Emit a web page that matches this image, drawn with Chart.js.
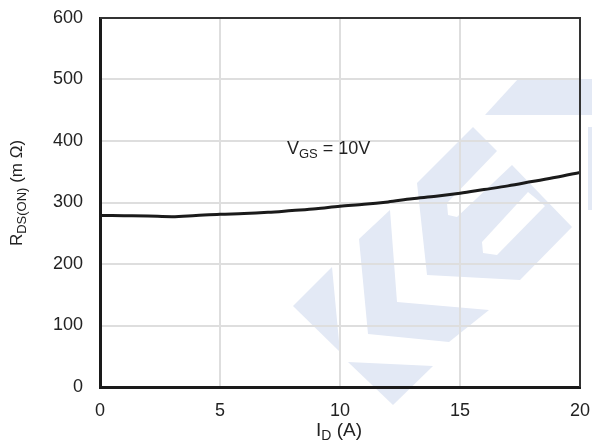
<!DOCTYPE html>
<html>
<head>
<meta charset="utf-8">
<script src="https://cdn.jsdelivr.net/npm/chart.js@4/dist/chart.umd.min.js"></script>
<style>
  html, body { margin: 0; padding: 0; background: #fff; }
  #wrap { width: 592px; height: 443px; }
</style>
</head>
<body>
<div id="wrap"><canvas id="chart" width="592" height="443"></canvas></div>
<script>
// I_D (A) vs R_DS(ON) (mΩ), V_GS = 10V
const currentA = [0, 1, 2, 3, 4, 5, 6, 7, 8, 9, 10, 11, 12, 13, 14, 15, 16, 17, 18, 19, 20];
const rdsOn = [279, 278.5, 278, 277, 279, 281, 282, 284, 287, 290, 294, 297, 301, 306, 310, 315, 321, 327, 334, 341, 349];
const xTicks = [0, 5, 10, 15, 20];
const yTicks = [0, 100, 200, 300, 400, 500, 600];

const FONT = '"Liberation Sans", Arial, sans-serif';
const TXT = '#222';

// faded logo in the background (decoration only, pixel coords)
const logoShapes = [
    [[485, 115], [518, 79], [592, 79], [592, 115]],
    [[588, 127], [592, 127], [592, 210], [588, 210]],
    [[473, 127], [497, 151], [447, 203], [448, 215], [457, 217], [512, 165], [572, 227], [520, 280], [427, 275], [417, 183]],
    [[390, 210], [397, 302], [489, 310], [449, 342], [368, 334], [359, 239]],
    [[332, 267], [340, 352], [293, 306]],
    [[348, 362], [433, 366], [393, 405]]
];
const logoHoles = [
    [[482, 242], [483, 253], [497, 255], [545, 206], [528, 192]]
];

function poly(ctx, pts, color) {
    ctx.beginPath();
    pts.forEach(([x, y], i) => i ? ctx.lineTo(x, y) : ctx.moveTo(x, y));
    ctx.closePath();
    ctx.fillStyle = color;
    ctx.fill();
}

// text with a subscript part, e.g. R + DS(ON) + (m Ω)
function subText(ctx, x, y, main, sub, rest, size, subSize) {
    ctx.font = size + 'px ' + FONT;
    ctx.fillText(main, x, y);
    x += ctx.measureText(main).width;
    ctx.font = subSize + 'px ' + FONT;
    ctx.fillText(sub, x, y + 4);
    x += ctx.measureText(sub).width;
    ctx.font = size + 'px ' + FONT;
    ctx.fillText(rest, x, y);
}

function subWidth(ctx, main, sub, rest, size, subSize) {
    ctx.font = size + 'px ' + FONT;
    let w = ctx.measureText(main).width + ctx.measureText(rest).width;
    ctx.font = subSize + 'px ' + FONT;
    return w + ctx.measureText(sub).width;
}

const decoPlugin = {
    id: 'deco',
    beforeDraw(chart) {
        const ctx = chart.ctx;
        ctx.save();
        ctx.fillStyle = '#fff';
        ctx.fillRect(0, 0, chart.width, chart.height);
        logoShapes.forEach(p => poly(ctx, p, '#e3e9f5'));
        logoHoles.forEach(p => poly(ctx, p, '#fff'));
        ctx.restore();
    },
    afterDraw(chart) {
        const ctx = chart.ctx;
        const a = chart.chartArea;
        ctx.save();
        // top and right frame
        ctx.strokeStyle = '#333';
        ctx.lineWidth = 2;
        ctx.beginPath();
        ctx.moveTo(a.left, a.top);
        ctx.lineTo(a.right, a.top);
        ctx.lineTo(a.right, a.bottom);
        ctx.stroke();

        ctx.fillStyle = TXT;
        ctx.textBaseline = 'alphabetic';
        ctx.textAlign = 'left';

        // annotation
        subText(ctx, 287, 154, 'V', 'GS', ' = 10V', 18, 13);

        // x title
        const xw = subWidth(ctx, 'I', 'D', ' (A)', 19, 14);
        subText(ctx, (a.left + a.right) / 2 - xw / 2 - 1, 436, 'I', 'D', ' (A)', 19, 14);

        // y title (rotated)
        const yw = subWidth(ctx, 'R', 'DS(ON)', ' (m Ω)', 17, 13);
        ctx.translate(22, 193);
        ctx.rotate(-Math.PI / 2);
        subText(ctx, -yw / 2, 0, 'R', 'DS(ON)', ' (m Ω)', 17, 13);
        ctx.restore();
    }
};

new Chart(document.getElementById('chart'), {
    type: 'line',
    data: {
        datasets: [{
            data: currentA.map((x, i) => ({ x, y: rdsOn[i] })),
            borderColor: '#1a1a1a',
            borderWidth: 3,
            pointRadius: 0,
            cubicInterpolationMode: 'monotone',
            fill: false
        }]
    },
    options: {
        responsive: false,
        animation: false,
        events: [],
        layout: { padding: { left: 0, top: 18, right: 12, bottom: 0 } },
        plugins: { legend: { display: false }, tooltip: { enabled: false } },
        scales: {
            x: {
                type: 'linear',
                min: 0,
                max: 20,
                afterBuildTicks: s => { s.ticks = xTicks.map(v => ({ value: v })); },
                afterFit: s => { s.height = 56; s.paddingLeft = 0; s.paddingRight = 0; },
                ticks: { color: TXT, font: { family: FONT, size: 18 }, padding: 13 },
                grid: { color: '#dedede', lineWidth: 2, drawTicks: false },
                border: { color: '#1a1a1a', width: 3 }
            },
            y: {
                min: 0,
                max: 600,
                afterBuildTicks: s => { s.ticks = yTicks.map(v => ({ value: v })); },
                afterFit: s => { s.width = 100; s.paddingTop = 0; s.paddingBottom = 0; },
                ticks: { color: TXT, font: { family: FONT, size: 18 }, padding: 17 },
                grid: { color: '#dedede', lineWidth: 2, drawTicks: false },
                border: { color: '#1a1a1a', width: 3 }
            }
        }
    },
    plugins: [decoPlugin]
});
</script>
</body>
</html>
